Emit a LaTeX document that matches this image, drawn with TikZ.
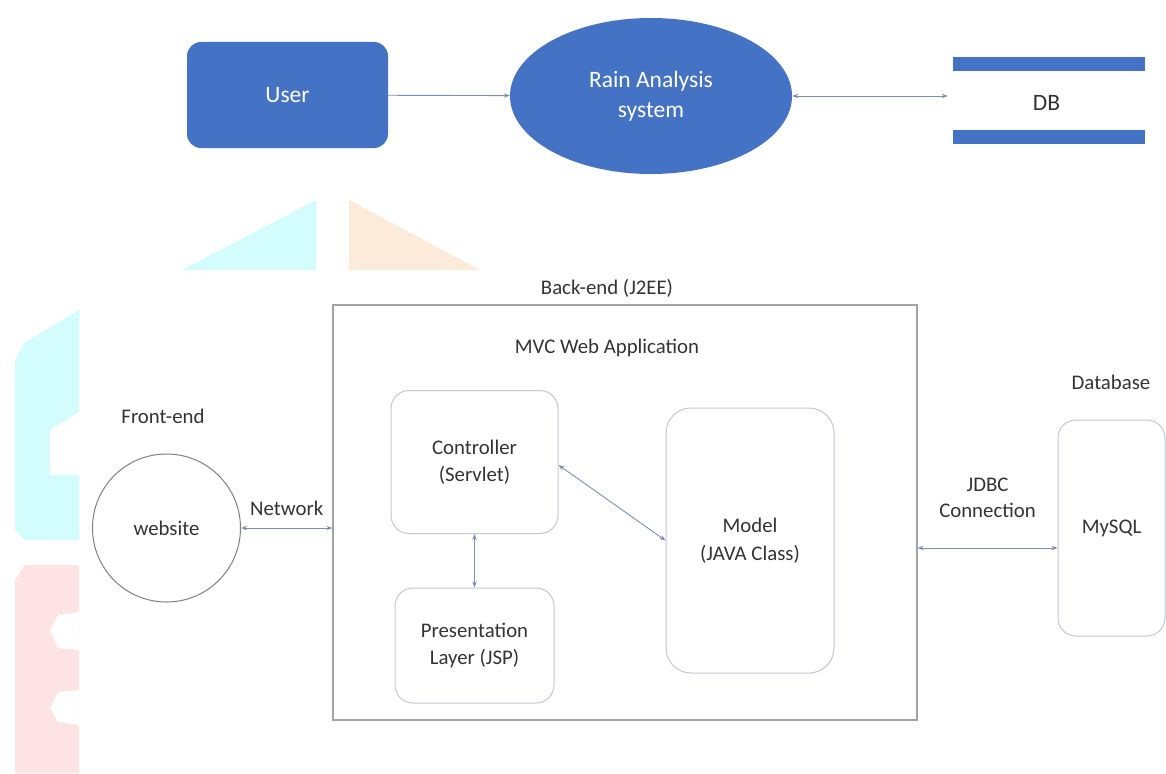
\documentclass[tikz,border=0pt]{standalone}
\usepackage{fontspec}
\setmainfont{Carlito}
\usetikzlibrary{arrows.meta,shapes.geometric}

\definecolor{userblue}{HTML}{4472C4}
\definecolor{boxline}{HTML}{A3A3A3}
\definecolor{roundline}{HTML}{C3C7CF}
\definecolor{linkblue}{HTML}{7D8DB3}
\definecolor{txtgray}{HTML}{333333}
\definecolor{wmcyan}{HTML}{D3FDFD}
\definecolor{wmorange}{HTML}{FDEBD9}
\definecolor{wmred}{HTML}{FDE3E3}

\begin{document}
\begin{tikzpicture}[x=1pt,y=-1pt]

    \useasboundingbox (0,0) rectangle (1166,773);

    % faint marks in the background
    \fill[wmcyan] (182,270) -- (316,200) -- (316,270) -- cycle;
    \fill[wmorange] (349,200) -- (480,270) -- (349,270) -- cycle;
    \fill[wmcyan] (79,310) -- (24,343) -- (15,360) -- (15,530) -- (25,540) -- (79,540) -- cycle;
    \fill[white] (50,430) -- (79,412) -- (79,475) -- (50,475) -- cycle;
    \fill[wmred] (15,580) -- (25,565) -- (79,565) -- (79,773) -- (15,773) -- cycle;
    \fill[white] (79,612) -- (58,615) -- (50,630) -- (58,648) -- (79,650) -- cycle;
    \fill[white] (79,690) -- (58,692) -- (50,708) -- (58,722) -- (79,725) -- cycle;

    \begin{scope}[every node/.style={inner sep=0pt,font=\fontsize{23.5}{30}\selectfont}]
        \node[rectangle,rounded corners=14pt,fill=userblue,text=white,minimum width=201pt,minimum height=106pt] (user) at (287.5,95) {User};
        \node[ellipse,fill=userblue,text=white,align=center,minimum width=282pt,minimum height=156pt] (rain) at (651,96) {Rain Analysis\\system};
        \node[text=txtgray,minimum width=197pt] (db) at (1046.5,103) {DB};
    \end{scope}

    % the two bars of the data store
    \fill[userblue] (953,57) rectangle (1145,71);
    \fill[userblue] (953,130) rectangle (1145,144);

    \begin{scope}[every edge/.style={draw=linkblue,line width=0.9pt}]
        \path [-{Stealth[length=6pt,width=4.5pt]}] (user) edge (rain);
        \path [{Stealth[length=6pt,width=4.5pt]}-{Stealth[length=6pt,width=4.5pt]}] (rain.east) edge (rain.east -| db.west);
    \end{scope}

    \begin{scope}[every node/.style={text=txtgray,align=center,font=\fontsize{20.8}{27.5}\selectfont}]
        \node[draw=boxline,line width=1.1pt,minimum width=584pt,minimum height=415pt] (backend) at (625,512.5) {};
        \node (backlbl) at (607,288) {Back-end (J2EE)};
        \node (mvclbl) at (607,348) {MVC Web Application};
        \node[draw=roundline,line width=1pt,rounded corners=18pt,minimum width=167pt,minimum height=143pt] (ctrl) at (474.5,462) {Controller\\(Servlet)};
        \node[draw=roundline,line width=1pt,rounded corners=18pt,minimum width=159pt,minimum height=115pt] (pres) at (474.5,645.5) {Presentation\\Layer (JSP)};
        \node[draw=roundline,line width=1pt,rounded corners=25pt,minimum width=168pt,minimum height=265pt] (model) at (750,540.5) {Model\\(JAVA Class)};
        \node (frontlbl) at (163,416) {Front-end};
        \node[circle,draw=gray,line width=1pt,minimum size=148pt] (web) at (166.5,528) {website};
        \node (dblbl) at (1111,382) {Database};
        \node[draw=roundline,line width=1pt,rounded corners=18pt,minimum width=107pt,minimum height=216pt] (mysql) at (1111.5,528) {MySQL};
    \end{scope}

    \begin{scope}[every node/.style={text=txtgray,align=center,font=\fontsize{20.8}{26}\selectfont}, every edge/.style={draw=linkblue,line width=0.9pt}]
        % links between the parts
        \path [{Stealth[length=6pt,width=4.5pt]}-{Stealth[length=6pt,width=4.5pt]}] (web) edge node[above=9pt] {Network} (web -| backend.west);
        \path [{Stealth[length=6pt,width=4.5pt]}-{Stealth[length=6pt,width=4.5pt]}] ([yshift=-20pt]mysql.west -| backend.east) edge node[above=27pt] {JDBC\\Connection} ([yshift=-20pt]mysql.west);
        \path [{Stealth[length=6pt,width=4.5pt]}-{Stealth[length=6pt,width=4.5pt]}] (ctrl) edge (pres);
        \path [{Stealth[length=6pt,width=4.5pt]}-{Stealth[length=6pt,width=4.5pt]}] ([yshift=-3pt]ctrl.east) edge (model.west);
    \end{scope}

\end{tikzpicture}
\end{document}
